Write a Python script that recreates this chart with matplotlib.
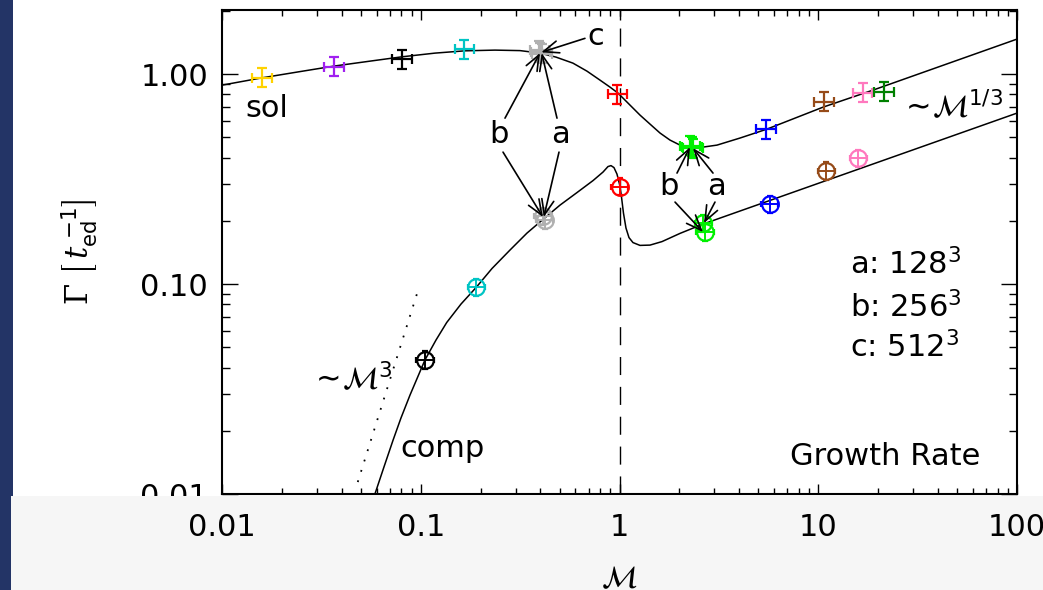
import numpy as np
import matplotlib.pyplot as plt
from matplotlib.patches import Rectangle
from matplotlib.ticker import NullFormatter, LogLocator

# solenoidal runs (upper branch): Mach number, growth rate, colour
sol_mach = [0.0159, 0.0365, 0.0805, 0.166, 0.395, 0.400, 0.408, 0.975,
            2.27, 2.31, 2.35, 5.46, 10.7, 16.7, 21.4]
sol_rate = [0.960, 1.083, 1.175, 1.315, 1.30, 1.27, 1.25, 0.803,
            0.455, 0.450, 0.443, 0.547, 0.738, 0.815, 0.823]
sol_col = ['#ffd200', '#a020f0', 'black', '#00c4c4', '#b0b0b0', '#b0b0b0', '#b0b0b0', 'red',
           '#00f000', '#00f000', '#00f000', 'blue', '#964b19', '#ff78be', '#008000']

# compressive runs (lower branch)
comp_mach = [0.105, 0.190, 0.412, 0.420, 1.00, 2.64, 2.69, 5.71, 11.0, 15.9]
comp_rate = [0.0435, 0.0965, 0.210, 0.202, 0.291, 0.1945, 0.1762, 0.240, 0.345, 0.397]
comp_col = ['black', '#00c4c4', '#b0b0b0', '#b0b0b0', 'red', '#00f000', '#00f000',
            'blue', '#964b19', '#ff78be']

# fitted curves
sol_fit_m = [0.0100, 0.0159, 0.0247, 0.0366, 0.0556, 0.0805, 0.118, 0.167, 0.236, 0.316,
             0.398, 0.479, 0.583, 0.686, 0.798, 0.896, 0.983, 1.116, 1.268, 1.424, 1.599,
             1.795, 2.016, 2.263, 2.541, 3.094, 4.04, 5.52, 10.57, 18.86, 100.0]
sol_fit_g = [0.886, 0.960, 1.028, 1.092, 1.153, 1.209, 1.259, 1.291, 1.301, 1.294,
             1.259, 1.205, 1.128, 1.033, 0.936, 0.867, 0.812, 0.720, 0.638, 0.578, 0.524,
             0.485, 0.459, 0.447, 0.447, 0.459, 0.496, 0.547, 0.696, 0.839, 1.468]

comp_fit_m = [0.0586, 0.0653, 0.0726, 0.0795, 0.0883, 0.105, 0.1193, 0.1351, 0.1594, 0.1897,
              0.2283, 0.2812, 0.3424, 0.417, 0.502, 0.611, 0.736, 0.826, 0.875, 0.906,
              0.938, 0.971, 1.000, 1.0235, 1.047, 1.078, 1.116, 1.169, 1.268, 1.424,
              1.636, 2.016, 2.631, 100.0]
comp_fit_g = [0.0099, 0.01345, 0.01808, 0.0230, 0.0296, 0.0435, 0.0541, 0.0656, 0.0803, 0.0962,
              0.1186, 0.1452, 0.1749, 0.2051, 0.2377, 0.2727, 0.3111, 0.3415, 0.3627, 0.3666,
              0.3587, 0.3342, 0.2994, 0.2596, 0.2178, 0.1848, 0.1665, 0.1576, 0.1528, 0.1533,
              0.1593, 0.1743, 0.193, 0.652]

# ~M^3 guide line
slope3_m = [0.0482, 0.098]
slope3_g = [0.0114, 0.0965]

# resolution arrows: (tail, head) in data coords
arrows = [
    ((0.2654, 0.617), (0.398, 1.26)),
    ((0.4847, 0.617), (0.406, 1.26)),
    ((0.670, 1.48), (0.404, 1.27)),
    ((0.2594, 0.425), (0.412, 0.2085)),
    ((0.4961, 0.425), (0.416, 0.2085)),
    ((1.947, 0.3378), (2.263, 0.449)),
    ((2.954, 0.3378), (2.343, 0.444)),
    ((1.903, 0.2457), (2.631, 0.177)),
    ((3.023, 0.2457), (2.66, 0.195)),
]
arrow_labels = [('b', 0.2475, 0.4677), ('a', 0.5077, 0.4677), ('c', 0.757, 1.374),
                ('b', 1.774, 0.2655), ('a', 3.076, 0.2655)]

navy = '#233466'
panel = '#f6f6f6'
fs = 22

fig = plt.figure(figsize=(10.43, 5.90), dpi=100)
fig.patch.set_facecolor(navy)
fig.add_artist(Rectangle((13/1043, 94/590), 1, 1, transform=fig.transFigure,
                         facecolor='white', edgecolor='none', zorder=-2))
fig.add_artist(Rectangle((11/1043, 0), 1, 94/590, transform=fig.transFigure,
                         facecolor=panel, edgecolor='none', zorder=-1))
# screenshot overlay cuts the lowest y tick label
fig.add_artist(Rectangle((11/1043, 76/590), 210/1043, 18/590, transform=fig.transFigure,
                         facecolor=panel, edgecolor='none', zorder=5))

ax = fig.add_axes([222/1043, 96/590, 795/1043, 484/590])
ax.set_xscale('log')
ax.set_yscale('log')

ax.plot(sol_fit_m, sol_fit_g, color='black', lw=1.1)
ax.plot(comp_fit_m, comp_fit_g, color='black', lw=1.1)
ax.plot(slope3_m, slope3_g, color='black', lw=1.3, linestyle=(0, (1, 5)))
ax.axvline(1.0, color='black', lw=1.0, dashes=(13, 8.5))

fx, fy = 1.12, 1.11
for m, g, c in zip(sol_mach, sol_rate, sol_col):
    ax.errorbar([m], [g], xerr=[[m - m/fx], [m*fx - m]], yerr=[[g - g/fy], [g*fy - g]],
                fmt='none', ecolor=c, elinewidth=1.6, capsize=3.3, capthick=1.6, zorder=3)

cx, cy = 1.105, 1.10
for m, g, c in zip(comp_mach, comp_rate, comp_col):
    ax.errorbar([m], [g], xerr=[[m - m/cx], [m*cx - m]], yerr=[[g - g/cy], [g*cy - g]],
                fmt='o', color=c, mfc='none', ms=12, mew=1.6, elinewidth=1.4,
                capsize=2.5, capthick=1.4, zorder=3)

for tail, head in arrows:
    ax.annotate('', xy=head, xytext=tail,
                arrowprops=dict(arrowstyle='->,head_length=0.55,head_width=0.22',
                                lw=1.2, color='black', shrinkA=0, shrinkB=0,
                                mutation_scale=20), zorder=4)
for s, m, g in arrow_labels:
    ax.text(m, g, s, fontsize=fs, ha='center', va='baseline')

ax.text(0.01305, 0.624, 'sol', fontsize=fs, ha='left', va='baseline')
ax.text(0.0786, 0.0150, 'comp', fontsize=fs, ha='left', va='baseline')
ax.text(0.0277, 0.0313, r'$\sim\!\mathcal{M}^3$', fontsize=fs, ha='left', va='baseline')
ax.text(25.8, 0.624, r'$\sim\!\mathcal{M}^{1/3}$', fontsize=fs, ha='left', va='baseline')
ax.text(0.79, 0.4545, r'a: 128$^3$', fontsize=fs, transform=ax.transAxes, va='baseline')
ax.text(0.79, 0.3657, r'b: 256$^3$', fontsize=fs, transform=ax.transAxes, va='baseline')
ax.text(0.79, 0.283, r'c: 512$^3$', fontsize=fs, transform=ax.transAxes, va='baseline')
ax.text(0.9535, 0.06, 'Growth Rate', fontsize=fs, transform=ax.transAxes,
        ha='right', va='baseline')

ax.set_xlim(0.01, 100)
ax.set_ylim(0.01, 2.02)
ax.set_xticks([0.01, 0.1, 1, 10, 100], ['0.01', '0.1', '1', '10', '100'])
ax.set_yticks([0.01, 0.1, 1], ['0.01', '0.10', '1.00'])
ax.xaxis.set_minor_locator(LogLocator(base=10, subs=np.arange(2, 10)))
ax.yaxis.set_minor_locator(LogLocator(base=10, subs=np.arange(2, 10)))
ax.xaxis.set_minor_formatter(NullFormatter())
ax.yaxis.set_minor_formatter(NullFormatter())
ax.tick_params(which='both', direction='in', top=True, right=True, width=1.0,
               labelsize=fs)
ax.tick_params(axis='x', which='major', length=7, pad=14)
ax.tick_params(axis='x', which='minor', length=4)
ax.tick_params(axis='y', which='major', length=11.5, pad=10)
ax.tick_params(axis='y', which='minor', length=6)
for sp in ax.spines.values():
    sp.set_linewidth(1.5)

ax.set_xlabel(r'$\mathcal{M}$', fontsize=fs)
ax.xaxis.set_label_coords(0.5, -0.145)
ax.set_ylabel(r'$\Gamma\ \left[\,t_{\mathsf{ed}}^{\;\mathsf{-1}}\right]$', fontsize=fs,
              math_fontfamily='dejavuserif')
ax.yaxis.set_label_coords(-0.1535, 0.5)

fig.savefig('out.png', dpi=100, facecolor=fig.get_facecolor())
